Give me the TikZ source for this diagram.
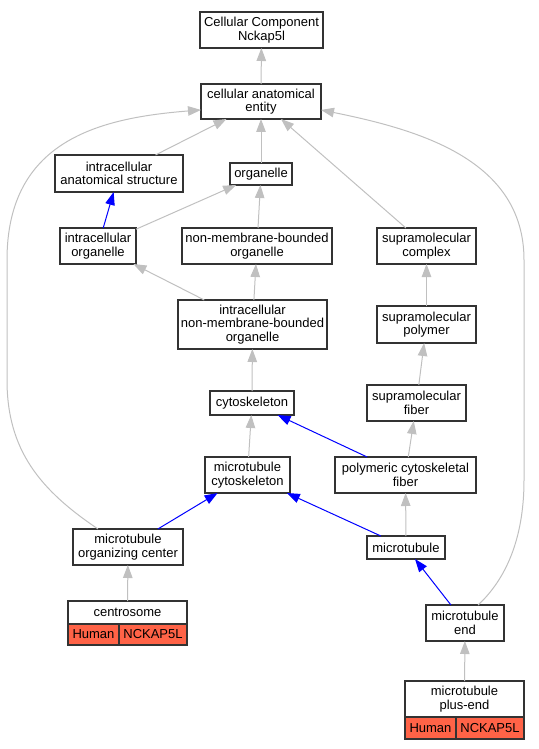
\documentclass[tikz,border=0pt]{standalone}
\usepackage{fontspec}
\setmainfont{Liberation Sans}
\usetikzlibrary{arrows.meta,positioning}
\definecolor{tomato}{HTML}{FF6347}
\definecolor{isagray}{HTML}{C0C0C0}

\begin{document}
\begin{tikzpicture}
                [
                    x=1pt, y=-1pt,
                    term/.style={draw=black!80, line width=1.3pt, fill=white, rectangle,
                                 align=center, inner sep=0pt, outer sep=0pt,
                                 font=\fontsize{13}{13.5}\selectfont},
                    gene/.style={term, fill=tomato, anchor=north west},
                    is a/.style={color=isagray, line width=1pt,
                                 -{Triangle[length=13pt,width=9.5pt]}},
                    part of/.style={color=blue, line width=1pt,
                                 -{Triangle[length=13pt,width=9.5pt]}}
                ]
                \useasboundingbox (0,0) rectangle (538,749);

                \node (top)   [term, minimum width=123pt, minimum height=36pt] at (261.5,30)   {Cellular Component\\Nckap5l};
                \node (cae)   [term, minimum width=120pt, minimum height=35pt] at (261,101.5)  {cellular anatomical\\entity};
                \node (ias)   [term, minimum width=128pt, minimum height=37pt] at (119,173.5)  {intracellular\\anatomical structure};
                \node (org)   [term, minimum width=62pt,  minimum height=22pt] at (261,174)    {organelle};
                \node (io)    [term, minimum width=76pt,  minimum height=36pt] at (98,246)     {intracellular\\organelle};
                \node (nmbo)  [term, minimum width=150pt, minimum height=36pt] at (257,246)    {non-membrane-bounded\\organelle};
                \node (sc)    [term, minimum width=99pt,  minimum height=36pt] at (426.5,246)  {supramolecular\\complex};
                \node (inmbo) [term, minimum width=149pt, minimum height=49pt] at (252.5,324.5) {intracellular\\non-membrane-bounded\\organelle};
                \node (sp)    [term, minimum width=99pt,  minimum height=37pt] at (426.5,324.5) {supramolecular\\polymer};
                \node (cyto)  [term, minimum width=84pt,  minimum height=24pt] at (252,403)    {cytoskeleton};
                \node (sf)    [term, minimum width=99pt,  minimum height=36pt] at (416.5,403)  {supramolecular\\fiber};
                \node (mc)    [term, minimum width=85pt,  minimum height=36pt] at (247.5,475)  {microtubule\\cytoskeleton};
                \node (pcf)   [term, minimum width=141pt, minimum height=36pt] at (405.5,475)  {polymeric cytoskeletal\\fiber};
                \node (mtoc)  [term, minimum width=110pt, minimum height=36pt] at (128,547)    {microtubule\\organizing center};
                \node (mt)    [term, minimum width=78pt,  minimum height=23pt] at (406,547.5)  {microtubule};
                \node (me)    [term, minimum width=78pt,  minimum height=36pt] at (465,623)    {microtubule\\end};

                \node (cs)    [term, minimum width=119pt, minimum height=23pt] at (127.5,612.5) {centrosome};
                \node (cs human) [gene, minimum width=51pt, minimum height=21pt] at (cs.south west) {Human};
                \node (cs gene)  [gene, minimum width=68pt, minimum height=21pt] at (cs human.north east) {NCKAP5L};

                \node (pe)    [term, minimum width=119pt, minimum height=36pt] at (464.5,699)  {microtubule\\plus-end};
                \node (pe human) [gene, minimum width=51pt, minimum height=22pt] at (pe.south west) {Human};
                \node (pe gene)  [gene, minimum width=68pt, minimum height=22pt] at (pe human.north east) {NCKAP5L};

                \path
                (cae)   edge [is a]    (top)
                (ias)   edge [is a]    (cae)
                (org)   edge [is a]    (cae)
                (sc)    edge [is a]    (cae)
                (io)    edge [part of] (ias)
                (io)    edge [is a]    (org)
                (nmbo)  edge [is a]    (org)
                (inmbo) edge [is a]    (io)
                (inmbo) edge [is a]    (nmbo)
                (sp)    edge [is a]    (sc)
                (cyto)  edge [is a]    (inmbo)
                (sf)    edge [is a]    (sp)
                (mc)    edge [is a]    (cyto)
                (pcf)   edge [part of] (cyto)
                (pcf)   edge [is a]    (sf)
                (mtoc)  edge [part of] (mc)
                (mt)    edge [part of] (mc)
                (mt)    edge [is a]    (pcf)
                (me)    edge [part of] (mt)
                (cs)    edge [is a]    (mtoc)
                (pe)    edge [is a]    (me)
                ;

                % long is_a links round the sides
                \draw [is a] (mtoc.149) .. controls (40,490) and (7,450) .. (7,380)
                             -- (7,260) .. controls (7,140) and (100,118) .. (cae.188);
                \draw [is a] (me.54) .. controls (505,580) and (524,540) .. (524,480)
                             -- (524,260) .. controls (524,160) and (420,130) .. (cae.-8);

            \end{tikzpicture}
\end{document}
